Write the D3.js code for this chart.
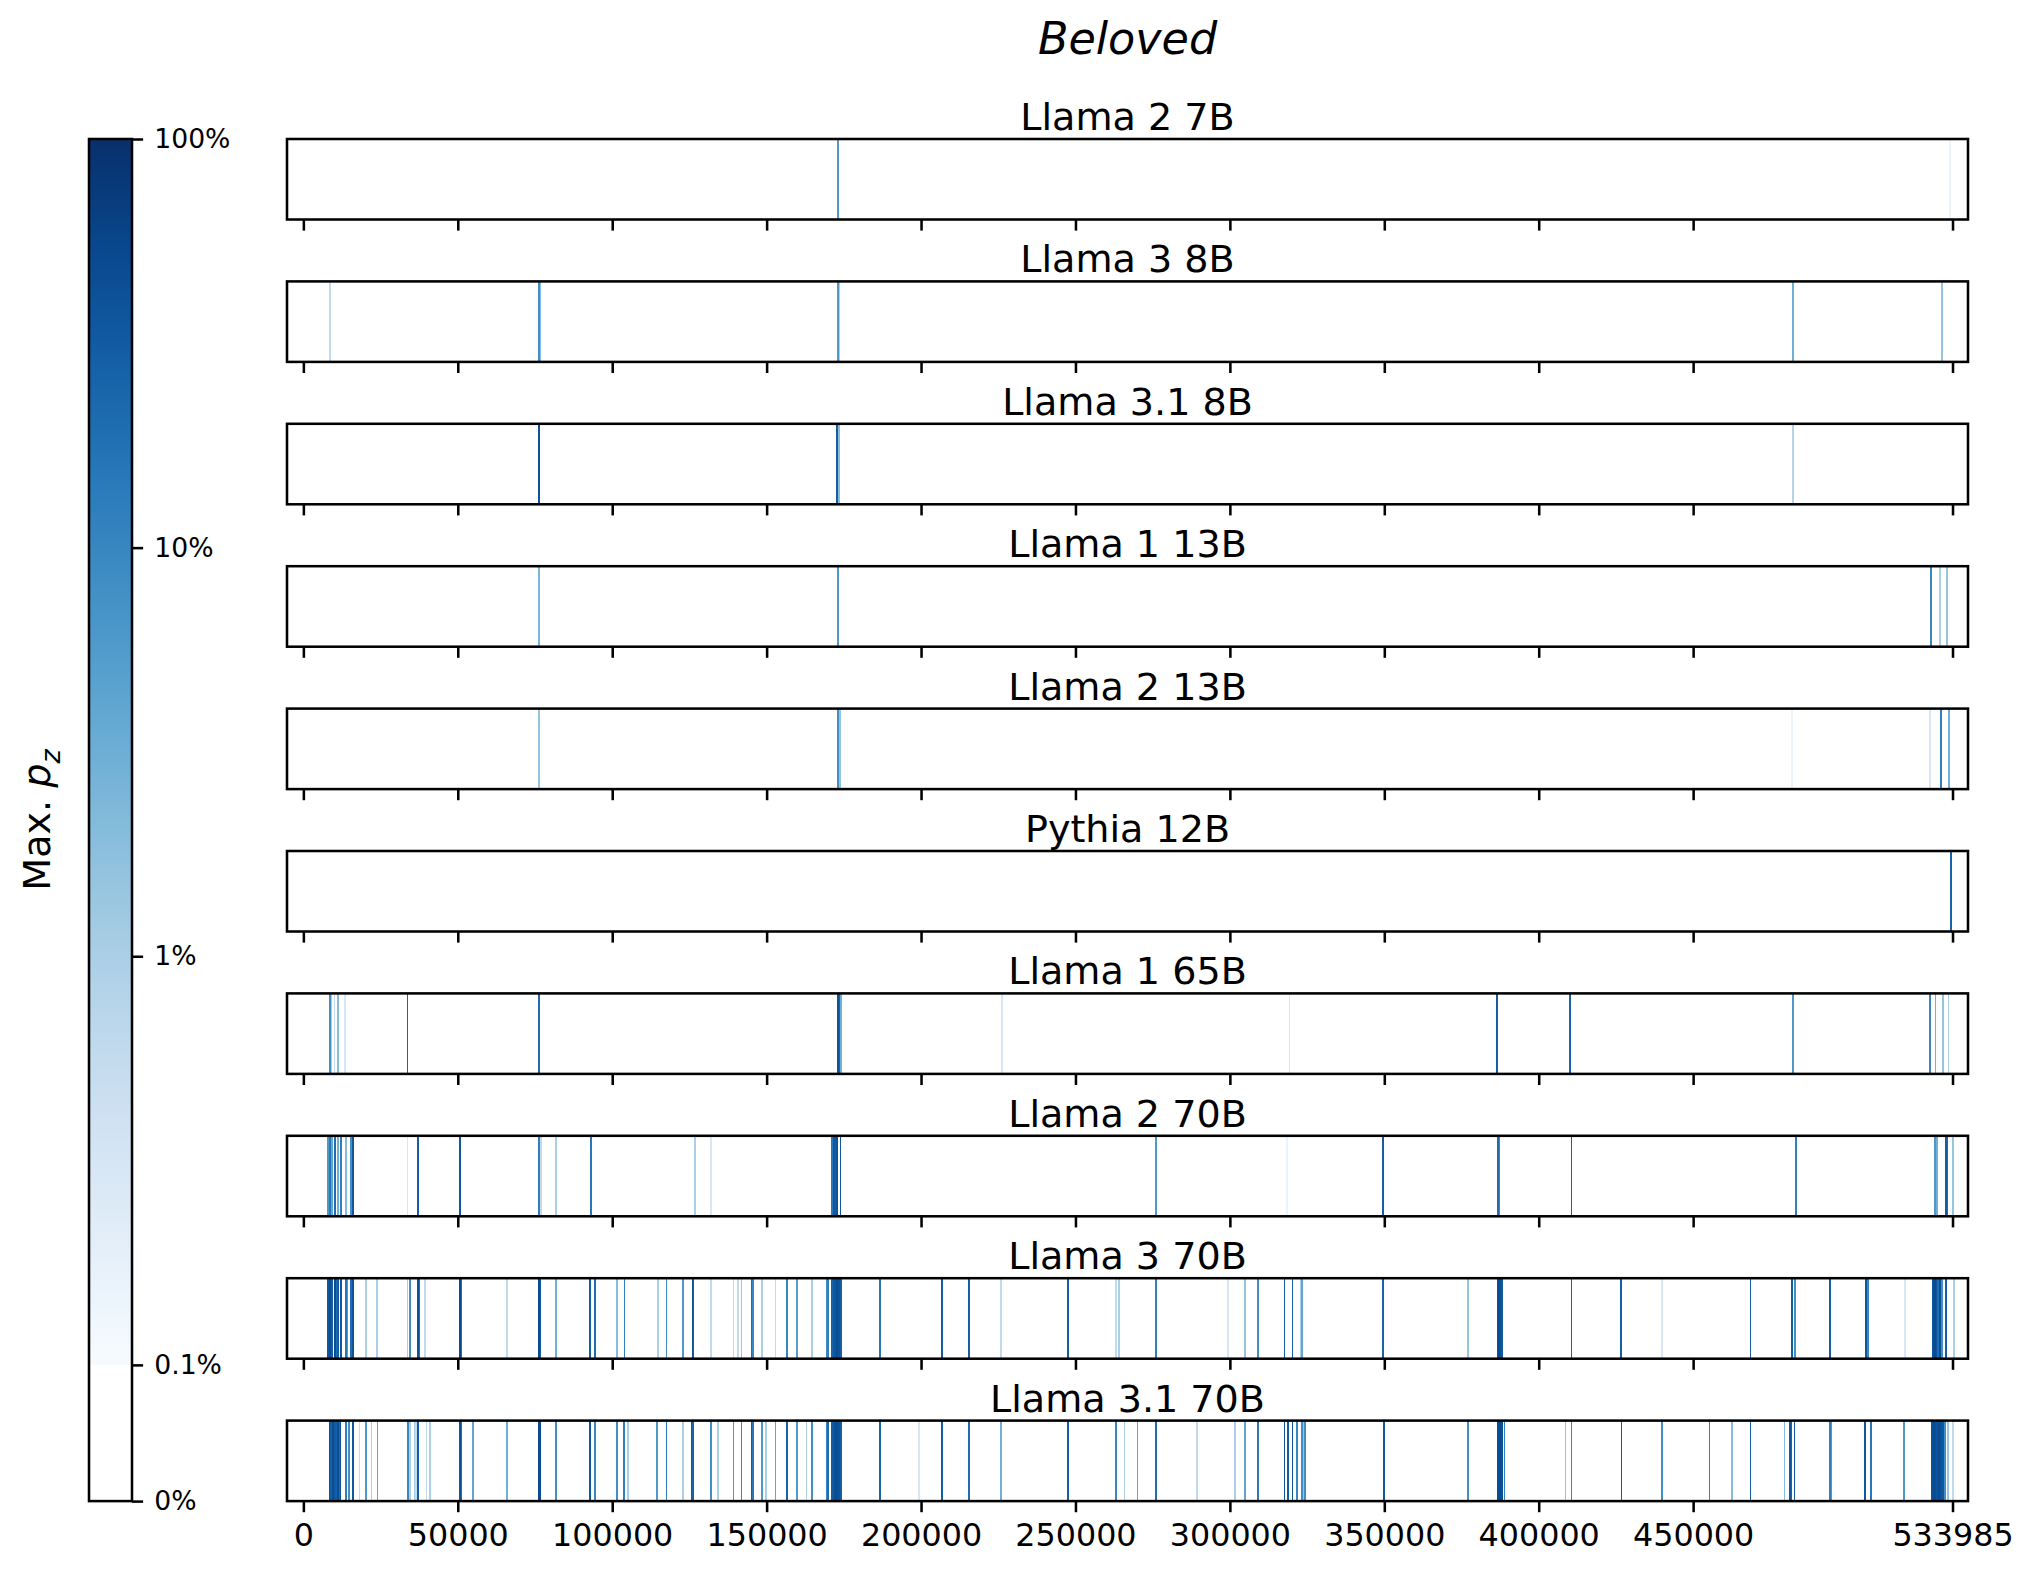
<!DOCTYPE html>
<html>
<head>
<meta charset="utf-8">
<script src="https://cdn.jsdelivr.net/npm/d3@7"></script>
<style>
  html, body { margin: 0; padding: 0; background: #fff; }
  svg text { font-family: 'DejaVu Sans', sans-serif; fill: #000; }
</style>
</head>
<body>
<svg id="chart" width="2035" height="1573"></svg>
<script>
// ── Data: [position in text, max p_z in %] per model ──
const TITLE  = 'Beloved';
const MODELS = ['Llama 2 7B', 'Llama 3 8B', 'Llama 3.1 8B', 'Llama 1 13B', 'Llama 2 13B',
                'Pythia 12B', 'Llama 1 65B', 'Llama 2 70B', 'Llama 3 70B', 'Llama 3.1 70B'];

const llama2_7b = [[172700, 6], [532900, 0.15]];

const llama3_8b = [[8400, 0.6], [76000, 8], [76500, 2], [172700, 6], [173200, 1],
  [482000, 3], [530300, 1.5]];

const llama31_8b = [[76000, 40], [172600, 30], [173100, 2], [482000, 0.8]];

const llama1_13b = [[76000, 2.5], [172700, 6], [526600, 10], [529600, 1], [531800, 1.5]];

const llama2_13b = [[76000, 1.5], [172700, 8], [173400, 1.5], [481800, 0.15], [526400, 0.3],
  [530000, 12], [532600, 3]];

const pythia_12b = [[533100, 25]];

const llama1_65b = [[8300, 8], [8800, 1], [9800, 0.6], [10800, 2], [13300, 0.3], [33400, 25],
  [76000, 20], [172800, 40], [173300, 25], [173700, 3], [225900, 0.3], [319000, 0.3],
  [386100, 30], [409900, 25], [482000, 6], [526500, 10], [528200, 3], [530600, 1.5], [532400, 1]];

const llama2_70b = [[7800, 6], [8400, 15], [9100, 4], [9900, 20], [11000, 3], [11900, 12],
  [13400, 2], [15200, 8], [15800, 35], [33450, 0.3], [36800, 30], [50400, 35], [76000, 12],
  [76600, 0.6], [81400, 1], [92800, 15], [126400, 1], [131800, 0.3], [170800, 15], [171400, 35],
  [172000, 30], [172600, 40], [173600, 35], [275900, 6], [318300, 0.15], [349200, 30],
  [386600, 20], [387000, 10], [410300, 25], [483000, 12], [528100, 6], [528600, 3],
  [531700, 30], [532100, 20], [533900, 1.5]];

const llama3_70b = [[7800, 35], [8400, 45], [9100, 30], [9900, 45], [10500, 20], [11000, 30],
  [11900, 35], [13400, 15], [14000, 5], [15200, 20], [15800, 40], [19900, 1], [23600, 1],
  [33450, 1], [34200, 8], [36800, 40], [37200, 20], [39000, 0.6], [50400, 50], [50700, 20],
  [65600, 0.6], [76000, 50], [76400, 30], [81400, 3], [92600, 30], [94200, 20], [101300, 2],
  [103700, 12], [114500, 1], [117300, 8], [122700, 6], [125700, 40], [126000, 30], [131800, 0.6],
  [139000, 0.6], [140500, 0.6], [141600, 1.5], [144800, 20], [145200, 10], [148100, 1],
  [152600, 0.6], [156300, 10], [159500, 5], [164300, 1], [169100, 8], [169700, 12], [170800, 25],
  [171400, 35], [172000, 40], [172600, 45], [173200, 40], [173800, 30], [186400, 15],
  [206500, 30], [215200, 30], [225500, 0.6], [247200, 30], [262800, 0.6], [263700, 1],
  [275900, 12], [299100, 0.3], [304600, 1.5], [308800, 8], [317400, 30], [320000, 25],
  [322800, 1], [323100, 4], [349200, 25], [376900, 1.5], [386400, 40], [386900, 50],
  [387400, 40], [387900, 30], [410300, 25], [426400, 30], [439600, 0.3], [468300, 30],
  [481800, 30], [482800, 8], [494100, 30], [505700, 35], [506200, 10], [518400, 0.3],
  [527500, 40], [528000, 50], [528500, 40], [529000, 20], [529600, 45], [530300, 8],
  [531600, 30], [534100, 1]];

const llama31_70b = [[8200, 40], [8700, 30], [9300, 45], [9700, 35], [10300, 30], [10800, 45],
  [11300, 20], [11700, 40], [13600, 12], [14500, 8], [15700, 35], [17900, 0.6], [19900, 6],
  [21800, 1], [23700, 4], [33500, 10], [34200, 1], [35700, 1], [36300, 0.6], [36800, 30],
  [39600, 0.6], [40600, 1], [50400, 40], [50900, 20], [54600, 4], [65700, 3], [76000, 50],
  [76400, 45], [81500, 8], [92500, 35], [94200, 10], [101300, 8], [103500, 12], [104900, 1],
  [114200, 6], [117300, 12], [122700, 1], [125400, 35], [125900, 25], [131800, 8], [134000, 1],
  [139000, 6], [141600, 10], [144800, 30], [145200, 15], [148100, 6], [149600, 1], [152600, 4],
  [156300, 25], [159500, 6], [162600, 1], [164300, 8], [169100, 10], [169700, 20], [170800, 30],
  [171400, 40], [172000, 50], [172600, 45], [173200, 40], [173800, 30], [186400, 25],
  [199000, 0.3], [206500, 30], [215200, 20], [225500, 3], [247200, 30], [262800, 10],
  [265600, 1], [269800, 4], [275900, 20], [289000, 0.6], [301300, 1], [304600, 4], [308800, 15],
  [317400, 35], [318400, 30], [320000, 35], [321500, 10], [323100, 8], [323700, 1.5],
  [324100, 8], [349500, 35], [376900, 8], [386500, 45], [387000, 50], [387500, 45], [388000, 40],
  [388600, 12], [408400, 1.5], [410300, 10], [426500, 30], [439500, 8], [455000, 12],
  [462200, 2], [468300, 30], [479300, 2], [481100, 35], [481500, 25], [482500, 30], [494000, 12],
  [494400, 6], [505300, 35], [507200, 15], [518000, 6], [527100, 40], [527600, 50], [528200, 45],
  [528800, 40], [529400, 50], [530000, 40], [530600, 35], [531200, 8], [532200, 1.5],
  [533800, 0.6]];

const SERIES = [llama2_7b, llama3_8b, llama31_8b, llama1_13b, llama2_13b,
                pythia_12b, llama1_65b, llama2_70b, llama3_70b, llama31_70b];

const TEXT_LEN  = 533985;
const X_TICKS   = [0, 50000, 100000, 150000, 200000, 250000, 300000, 350000, 400000, 450000, TEXT_LEN];
const CB_TICKS  = [0, 0.1, 1, 10, 100];
const CB_LABELS = ['0%', '0.1%', '1%', '10%', '100%'];

(() => {
  'use strict';

  const PX       = 3.175;          // px per pt
  const LEFT     = 287, RIGHT = 1968;
  const TOP0     = 139;
  const PANEL_H  = 80.5;
  const STEP     = 142.4;
  const BIN      = 500;            // width of one stripe, text units
  const TICK_LEN = 3.5 * PX;
  const LW       = 0.8 * PX;

  const svg = d3.select('#chart');

  const x = d3.scaleLinear().domain([-5300, 539000]).range([LEFT, RIGHT]);

  // value (%) -> colour, white below 0.1%
  const tScale = d3.scaleLog().domain([0.1, 100]).range([0, 1]).clamp(true);
  const colour = v => v < 0.1 ? '#ffffff' : d3.interpolateBlues(tScale(v));

  // ── Suptitle ──
  svg.append('text')
    .attr('x', (LEFT + RIGHT) / 2).attr('y', 54)
    .attr('text-anchor', 'middle')
    .attr('font-size', 14 * PX)
    .attr('font-style', 'italic')
    .text(TITLE);

  // ── Panels ──
  const defs = svg.append('defs');

  MODELS.forEach((name, i) => {
    const top = TOP0 + i * STEP;
    const g = svg.append('g');

    defs.append('clipPath').attr('id', `clip-${i}`)
      .append('rect').attr('x', LEFT).attr('y', top).attr('width', RIGHT - LEFT).attr('height', PANEL_H);

    const rows = SERIES[i].slice().sort((a, b) => a[1] - b[1]);
    g.append('g').attr('clip-path', `url(#clip-${i})`)
      .selectAll('rect').data(rows).join('rect')
      .attr('x', d => x(d[0]))
      .attr('y', top)
      .attr('width', d => Math.max(1.8, x(d[0] + BIN) - x(d[0])))
      .attr('height', PANEL_H)
      .attr('fill', d => colour(d[1]))
      .attr('shape-rendering', 'crispEdges');

    g.append('rect')
      .attr('x', LEFT).attr('y', top)
      .attr('width', RIGHT - LEFT).attr('height', PANEL_H)
      .attr('fill', 'none').attr('stroke', '#000').attr('stroke-width', LW);

    g.append('text')
      .attr('x', (LEFT + RIGHT) / 2).attr('y', top - 9)
      .attr('text-anchor', 'middle')
      .attr('font-size', 12 * PX)
      .text(name);

    const last = i === MODELS.length - 1;
    const axis = d3.axisBottom(x)
      .tickValues(X_TICKS)
      .tickSize(TICK_LEN)
      .tickPadding(TICK_LEN)
      .tickFormat(last ? d3.format('d') : () => '');

    const ax = g.append('g')
      .attr('transform', `translate(0,${top + PANEL_H})`)
      .call(axis);
    ax.select('.domain').remove();
    ax.selectAll('.tick line').attr('stroke', '#000').attr('stroke-width', LW);
    ax.selectAll('.tick text')
      .attr('font-size', 10 * PX)
      .attr('font-family', "'DejaVu Sans', sans-serif")
      .attr('fill', '#000');
  });

  // ── Colorbar ──
  const CB_X = 89, CB_W = 43;
  const CB_TOP = TOP0, CB_BOT = TOP0 + 9 * STEP + PANEL_H;
  const decade = (CB_BOT - CB_TOP) / (3 + 1 / 3);
  const cbY = d3.scaleLinear()
    .domain(CB_TICKS)
    .range([CB_BOT, CB_BOT - decade / 3, CB_BOT - decade * 4 / 3, CB_BOT - decade * 7 / 3, CB_TOP]);

  const grad = defs.append('linearGradient').attr('id', 'cb-grad')
    .attr('x1', 0).attr('y1', 1).attr('x2', 0).attr('y2', 0);
  d3.range(0, 1.0001, 0.05).forEach(t => {
    grad.append('stop').attr('offset', t).attr('stop-color', d3.interpolateBlues(t));
  });

  const cb = svg.append('g');
  cb.append('rect')
    .attr('x', CB_X).attr('y', cbY(100))
    .attr('width', CB_W).attr('height', cbY(0.1) - cbY(100))
    .attr('fill', 'url(#cb-grad)');
  cb.append('rect')
    .attr('x', CB_X).attr('y', CB_TOP)
    .attr('width', CB_W).attr('height', CB_BOT - CB_TOP)
    .attr('fill', 'none').attr('stroke', '#000').attr('stroke-width', LW);

  const cbAxis = cb.append('g')
    .attr('transform', `translate(${CB_X + CB_W},0)`)
    .call(d3.axisRight(cbY)
      .tickValues(CB_TICKS)
      .tickSize(TICK_LEN)
      .tickPadding(TICK_LEN)
      .tickFormat((d, k) => CB_LABELS[k]));
  cbAxis.select('.domain').remove();
  cbAxis.selectAll('.tick line').attr('stroke', '#000').attr('stroke-width', LW);
  cbAxis.selectAll('.tick text')
    .attr('font-size', 8.4 * PX)
    .attr('font-family', "'DejaVu Sans', sans-serif")
    .attr('fill', '#000');

  // colorbar label, reads bottom to top
  const lbl = svg.append('text')
    .attr('transform', `translate(50,${(CB_TOP + CB_BOT) / 2}) rotate(-90)`)
    .attr('text-anchor', 'middle')
    .attr('font-size', 12 * PX);
  lbl.append('tspan').text('Max. ');
  lbl.append('tspan').attr('font-style', 'italic').text('p');
  lbl.append('tspan').attr('font-style', 'italic').attr('font-size', 8.5 * PX)
    .attr('dy', 0.25 * 12 * PX).text('z');
})();
</script>
</body>
</html>
